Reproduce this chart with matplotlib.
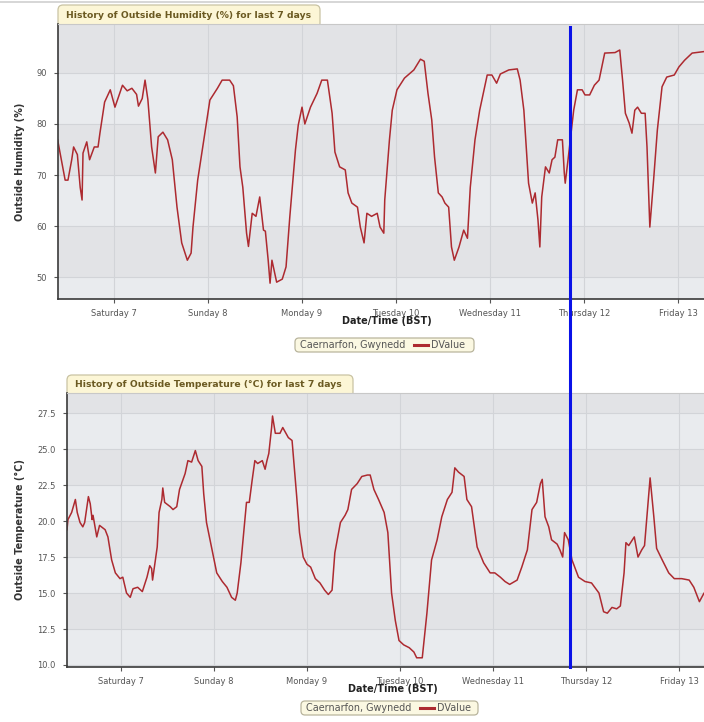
import matplotlib
matplotlib.use("Agg")
import matplotlib.pyplot as plt
from matplotlib.patches import FancyBboxPatch
from matplotlib.lines import Line2D

# ---------------- data ----------------
day_labels = ["Saturday 7", "Sunday 8", "Monday 9", "Tuesday 10",
              "Wednesday 11", "Thursday 12", "Friday 13"]
day_ticks = [0, 1, 2, 3, 4, 5, 6]

# days since Saturday 7 00:00 BST
hum_day = [-0.60, -0.52, -0.49, -0.45, -0.43, -0.39, -0.36, -0.34, -0.33, -0.29,
           -0.26, -0.21, -0.17, -0.15, -0.10, -0.04, 0.01, 0.09, 0.14, 0.19,
           0.24, 0.26, 0.30, 0.33, 0.36, 0.40, 0.44, 0.47, 0.52, 0.57,
           0.62, 0.67, 0.72, 0.78, 0.82, 0.84, 0.89, 0.95, 1.02, 1.10,
           1.15, 1.23, 1.27, 1.31, 1.34, 1.37, 1.41, 1.43, 1.47, 1.51,
           1.55, 1.59, 1.61, 1.64, 1.66, 1.68, 1.73, 1.79, 1.83, 1.87,
           1.93, 1.96, 2.00, 2.03, 2.09, 2.16, 2.21, 2.27, 2.32, 2.35,
           2.40, 2.46, 2.49, 2.53, 2.59, 2.62, 2.66, 2.69, 2.74, 2.80,
           2.83, 2.87, 2.88, 2.93, 2.96, 3.01, 3.09, 3.14, 3.19, 3.26,
           3.30, 3.34, 3.38, 3.41, 3.45, 3.49, 3.52, 3.56, 3.59, 3.62,
           3.67, 3.72, 3.76, 3.79, 3.84, 3.89, 3.97, 4.02, 4.07, 4.11,
           4.20, 4.29, 4.32, 4.36, 4.39, 4.41, 4.45, 4.48, 4.51, 4.53,
           4.55, 4.59, 4.63, 4.66, 4.69, 4.72, 4.77, 4.79, 4.80, 4.83,
           4.89, 4.93, 4.98, 5.01, 5.06, 5.11, 5.16, 5.22, 5.33, 5.38,
           5.41, 5.44, 5.48, 5.51, 5.54, 5.57, 5.61, 5.65, 5.67, 5.70,
           5.74, 5.78, 5.83, 5.88, 5.96, 6.01, 6.07, 6.15, 6.28, 6.40]
hum_val = [76.9, 69.0, 69.0, 73.0, 75.5, 74.0, 67.6, 65.1, 74.3, 76.5,
           73.0, 75.5, 75.5, 78.2, 84.3, 86.7, 83.3, 87.6, 86.5, 87.0,
           85.8, 83.5, 85.0, 88.6, 84.8, 75.5, 70.4, 77.5, 78.4, 76.9,
           73.0, 63.7, 56.7, 53.3, 54.7, 59.8, 69.0, 76.3, 84.7, 87.0,
           88.6, 88.6, 87.5, 81.4, 71.6, 67.6, 58.6, 56.0, 62.5, 61.9,
           65.7, 59.2, 59.0, 53.3, 48.8, 53.3, 49.0, 49.6, 52.0, 61.8,
           74.9, 79.8, 83.3, 80.0, 83.3, 86.0, 88.6, 88.6, 82.1, 74.5,
           71.6, 71.0, 66.5, 64.5, 63.7, 59.8, 56.7, 62.5, 61.9, 62.5,
           59.8, 58.6, 65.1, 76.9, 82.7, 86.7, 89.0, 89.8, 90.6, 92.7,
           92.3, 86.0, 80.8, 73.5, 66.5, 65.7, 64.5, 63.7, 55.9, 53.3,
           55.9, 59.2, 57.6, 67.6, 76.9, 82.7, 89.6, 89.6, 88.0, 89.8,
           90.6, 90.8, 88.6, 82.7, 74.3, 68.4, 64.5, 66.5, 61.2, 55.9,
           65.7, 71.6, 70.4, 73.0, 73.5, 76.9, 76.9, 70.4, 68.4, 73.0,
           82.7, 86.7, 86.7, 85.7, 85.7, 87.6, 88.6, 93.9, 94.0, 94.5,
           88.6, 82.1, 80.2, 78.2, 82.7, 83.3, 82.1, 82.1, 75.5, 59.8,
           69.0, 78.8, 87.3, 89.2, 89.6, 91.2, 92.5, 93.9, 94.2, 94.5]

temp_day = [-0.58, -0.57, -0.53, -0.49, -0.47, -0.44, -0.41, -0.39, -0.35, -0.33,
            -0.31, -0.30, -0.26, -0.23, -0.17, -0.14, -0.10, -0.06, -0.01, 0.02,
            0.06, 0.10, 0.13, 0.18, 0.23, 0.28, 0.31, 0.33, 0.34, 0.39,
            0.41, 0.44, 0.45, 0.47, 0.53, 0.56, 0.60, 0.63, 0.69, 0.72,
            0.76, 0.80, 0.83, 0.87, 0.89, 0.92, 0.98, 1.03, 1.09, 1.14,
            1.19, 1.23, 1.25, 1.29, 1.33, 1.35, 1.38, 1.41, 1.44, 1.47,
            1.52, 1.55, 1.57, 1.59, 1.62, 1.63, 1.66, 1.71, 1.74, 1.80,
            1.84, 1.89, 1.92, 1.96, 2.00, 2.04, 2.09, 2.14, 2.19, 2.23,
            2.27, 2.30, 2.36, 2.41, 2.44, 2.48, 2.54, 2.59, 2.65, 2.68,
            2.72, 2.77, 2.83, 2.87, 2.91, 2.95, 2.99, 3.04, 3.10, 3.15,
            3.18, 3.24, 3.29, 3.34, 3.40, 3.45, 3.51, 3.56, 3.59, 3.63,
            3.69, 3.72, 3.77, 3.83, 3.90, 3.97, 4.02, 4.08, 4.13, 4.18,
            4.26, 4.31, 4.37, 4.42, 4.47, 4.51, 4.53, 4.56, 4.60, 4.63,
            4.69, 4.72, 4.75, 4.77, 4.81, 4.85, 4.92, 4.99, 5.06, 5.14,
            5.19, 5.23, 5.28, 5.33, 5.37, 5.41, 5.43, 5.46, 5.52, 5.56,
            5.60, 5.63, 5.69, 5.73, 5.76, 5.82, 5.89, 5.95, 6.03, 6.11,
            6.16, 6.22, 6.27, 6.38]
temp_val = [19.4, 20.1, 20.6, 21.5, 20.6, 19.9, 19.6, 19.9, 21.7, 21.2,
            20.1, 20.4, 18.9, 19.7, 19.4, 18.9, 17.3, 16.4, 16.0, 16.1,
            15.0, 14.7, 15.3, 15.4, 15.1, 16.1, 16.9, 16.7, 15.9, 18.2,
            20.6, 21.5, 22.3, 21.3, 21.0, 20.8, 21.0, 22.2, 23.3, 24.2,
            24.1, 24.9, 24.2, 23.8, 21.9, 19.9, 18.0, 16.4, 15.8, 15.4,
            14.7, 14.5, 15.0, 17.1, 19.9, 21.3, 21.3, 22.8, 24.2, 24.0,
            24.2, 23.6, 24.2, 24.7, 26.5, 27.3, 26.1, 26.1, 26.5, 25.8,
            25.6, 21.7, 19.2, 17.5, 17.0, 16.8, 16.0, 15.7, 15.2, 14.9,
            15.2, 17.8, 19.9, 20.4, 20.8, 22.2, 22.6, 23.1, 23.2, 23.2,
            22.2, 21.5, 20.6, 19.2, 15.0, 13.1, 11.7, 11.4, 11.2, 10.9,
            10.5, 10.5, 13.6, 17.3, 18.7, 20.3, 21.5, 22.0, 23.7, 23.4,
            23.1, 21.5, 21.0, 18.2, 17.1, 16.4, 16.4, 16.1, 15.8, 15.6,
            15.9, 16.8, 18.0, 20.8, 21.3, 22.6, 22.9, 20.3, 19.6, 18.7,
            18.4, 18.0, 17.5, 19.2, 18.7, 17.3, 16.1, 15.8, 15.7, 15.0,
            13.7, 13.6, 14.0, 13.9, 14.1, 16.4, 18.5, 18.3, 18.9, 17.5,
            18.0, 18.3, 23.0, 20.3, 18.1, 17.3, 16.4, 16.0, 16.0, 15.9,
            15.4, 14.4, 15.0, 15.2]

hum_ticks = [50, 60, 70, 80, 90]
hum_lim = (45.7, 99.6)
temp_ticks = [10.0, 12.5, 15.0, 17.5, 20.0, 22.5, 25.0, 27.5]
temp_lim = (9.86, 28.9)
x_lim_top = (-0.596, 6.404)
x_lim_bot = (-0.58, 6.42)

hum_title = "History of Outside Humidity (%) for last 7 days"
temp_title = "History of Outside Temperature (°C) for last 7 days"
hum_ylabel = "Outside Humidity (%)"
temp_ylabel = "Outside Temperature (°C)"
xlabel = "Date/Time (BST)"
legend_site = "Caernarfon, Gwynedd"
legend_series = "DValue"

# ---------------- style ----------------
W, H = 704, 722
fig = plt.figure(figsize=(W / 100, H / 100), dpi=100)
fig.patch.set_facecolor("white")
plt.rcParams["font.family"] = ["DejaVu Sans"]

LINE_C = "#ad2a30"
BAND_A = "#e2e3e6"
BAND_B = "#e9ebee"
TAB_FC = "#fcf6d6"
TAB_EC = "#c9c3a3"
TAB_TC = "#6b5a22"


def fx(px):
    return px / W


def fy(py):
    return 1 - py / H


def make_axes(l, t, r, b, days, vals, ticks, ylim, xlim, fmt, ylabel):
    ax = fig.add_axes([fx(l), fy(b), fx(r) - fx(l), (b - t) / H])
    ax.set_facecolor(BAND_B)
    edges = [ylim[0]] + list(ticks) + [ylim[1]]
    n = len(edges) - 1
    for i in range(n):
        c = BAND_A if (n - 1 - i) % 2 == 0 else BAND_B
        ax.axhspan(edges[i], edges[i + 1], color=c, lw=0, zorder=0)
    for t_ in ticks:
        ax.axhline(t_, color="#d2d4d8", lw=0.8, zorder=0.5)
    for d in day_ticks:
        ax.axvline(d, color="#d2d4d8", lw=0.8, zorder=0.5)
    ax.plot(days, vals, color=LINE_C, lw=1.1, zorder=2)
    ax.set_xlim(*xlim)
    ax.set_ylim(*ylim)
    ax.set_yticks(ticks)
    ax.set_yticklabels([fmt.format(v) for v in ticks])
    ax.set_xticks(day_ticks)
    ax.set_xticklabels(day_labels)
    ax.tick_params(axis="both", labelsize=6, colors="#555555", length=3,
                   width=0.8, pad=4)
    ax.tick_params(axis="y", pad=5)
    for s in ["left", "bottom"]:
        ax.spines[s].set_color("#3a3a3a")
        ax.spines[s].set_linewidth(1.2)
    ax.spines["top"].set_color("#c8c8c8")
    ax.spines["top"].set_linewidth(0.8)
    ax.spines["right"].set_visible(False)
    ax.set_xlabel(xlabel, fontsize=7, fontweight="bold", color="#222222",
                  labelpad=-1)
    ax.set_ylabel(ylabel, fontsize=7, fontweight="bold", color="#333333")
    return ax


ax1 = make_axes(58, 24, 716, 299, hum_day, hum_val, hum_ticks, hum_lim,
                x_lim_top, "{:.0f}", hum_ylabel)
ax2 = make_axes(67, 393, 718, 667, temp_day, temp_val, temp_ticks, temp_lim,
                x_lim_bot, "{:.1f}", temp_ylabel)
ax1.yaxis.set_label_coords(fx(25 - 58) / (fx(716) - fx(58)), 0.5)
ax2.yaxis.set_label_coords(fx(25 - 67) / (fx(718) - fx(67)), 0.5)


def tab(x0, x1, y0, y1, text):
    p = FancyBboxPatch((x0 / 100, (H - y1 - 4) / 100), (x1 - x0) / 100,
                       (y1 - y0 + 4) / 100,
                       boxstyle="round,pad=0,rounding_size=0.05",
                       transform=fig.dpi_scale_trans, facecolor=TAB_FC,
                       edgecolor=TAB_EC, lw=0.9, zorder=-1)
    fig.add_artist(p)
    fig.text(fx(x0 + 8), fy((y0 + y1) / 2 + 0.5), text, fontsize=6.7,
             fontweight="bold", color=TAB_TC, va="center", ha="left")


tab(58, 320, 5, 24, hum_title)
tab(67, 353, 375, 393, temp_title)


def legend_box(x0, x1, yc):
    p = FancyBboxPatch((x0 / 100, (H - yc - 7) / 100), (x1 - x0) / 100, 14 / 100,
                       boxstyle="round,pad=0,rounding_size=0.04",
                       transform=fig.dpi_scale_trans, facecolor="#fbf8e2",
                       edgecolor="#b9b59d", lw=0.9, zorder=3)
    fig.add_artist(p)
    fig.text(fx(x0 + 5), fy(yc), legend_site, fontsize=6.9, color="#555555",
             va="center", ha="left", zorder=4)
    fig.add_artist(Line2D([fx(x0 + 119), fx(x0 + 133)], [fy(yc), fy(yc)],
                          color=LINE_C, lw=2.2, zorder=4))
    fig.text(fx(x0 + 136), fy(yc), legend_series, fontsize=6.9,
             color="#555555", va="center", ha="left", zorder=4)


legend_box(295, 474, 345)
legend_box(301, 478, 708)

# thin top rule and blue marker line
fig.add_artist(Line2D([0, 1], [fy(2), fy(2)], color="#cfcfcf", lw=1.2))
fig.add_artist(Line2D([fx(570), fx(570)], [fy(27), fy(667)],
                      color="#0a12e8", lw=2.2, zorder=10))

fig.savefig("out.png", dpi=100)
